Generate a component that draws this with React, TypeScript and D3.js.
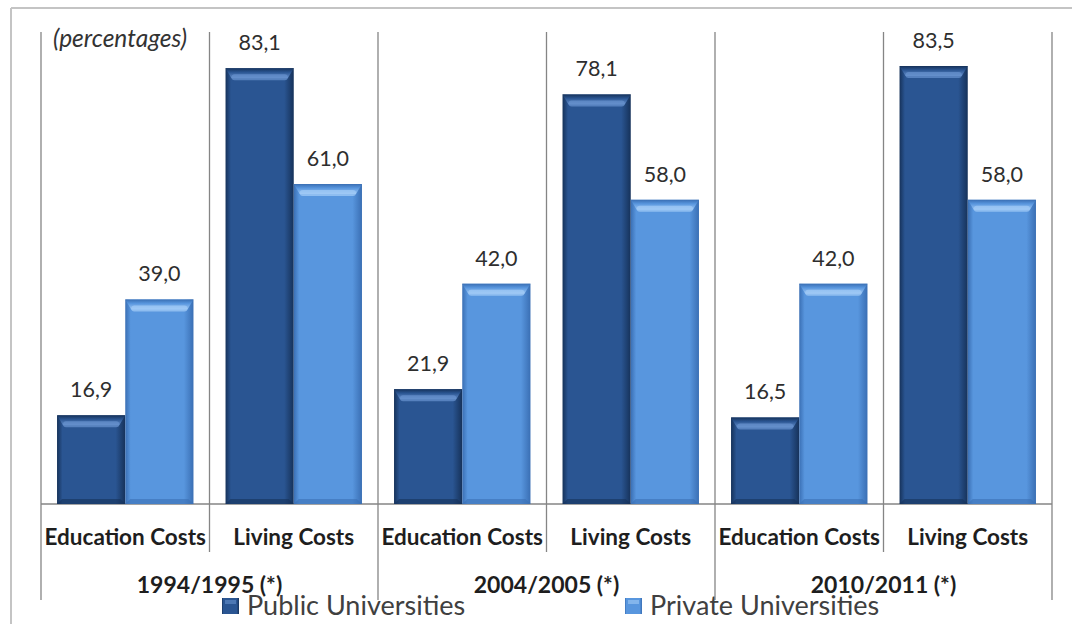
import * as d3 from "d3";

const years = ["1994/1995 (*)", "2004/2005 (*)", "2010/2011 (*)"];
const costTypes = ["Education Costs", "Living Costs"];
const seriesNames = ["Public Universities", "Private Universities"];
// values in order: year -> cost type
const publicValues = [16.9, 83.1, 21.9, 78.1, 16.5, 83.5];
const privateValues = [39.0, 61.0, 42.0, 58.0, 42.0, 58.0];
const unitLabel = "(percentages)";

const W = 1072;
const H = 624;
const plot = { left: 41, right: 1052, top: 32, bottom: 504 };
const font = "Lato, 'Open Sans', sans-serif";

const palette = {
	pub: { main: "#2a5592", edge: "#16325a", light: "#6690cc" },
	priv: { main: "#5896de", edge: "#3a6fb4", light: "#a0c9f5" },
};

const fmt = (v: number) => v.toFixed(1).replace(".", ",");

function Bar({ x, y, w, h, c, id }: { x: number; y: number; w: number; h: number; c: typeof palette.pub; id: string }) {
	const bevel = Math.min(10, h / 3);
	return (
		<g>
			<rect x={x} y={y} width={w} height={h} fill={`url(#h-${id})`} />
			{/* top bevel */}
			<polygon points={`${x},${y} ${x + w},${y} ${x + w - 6},${y + bevel} ${x + 6},${y + bevel}`} fill={`url(#t-${id})`} />
			<rect x={x + 6} y={y + bevel - 4} width={w - 12} height={6} rx={3} fill={c.light} opacity={0.75} />
			{/* bottom shade */}
			<polygon points={`${x},${y + h} ${x + w},${y + h} ${x + w - 5},${y + h - 5} ${x + 5},${y + h - 5}`} fill={c.edge} opacity={0.6} />
		</g>
	);
}

export default function App() {
	const cats = years.flatMap((yr) => costTypes.map((ct) => `${yr}|${ct}`));
	const x = d3.scaleBand<string>().domain(cats).range([plot.left, plot.right]).padding(0);
	const inner = d3.scaleBand<string>().domain(seriesNames).range([0, x.bandwidth()]).paddingInner(0).paddingOuter(0.235);
	const y = d3.scaleLinear().domain([0, 90]).range([plot.bottom, plot.top]);
	const groupW = x.bandwidth() * costTypes.length;

	const bars = cats.flatMap((cat, i) => [
		{ cat, s: seriesNames[0], v: publicValues[i], c: palette.pub, id: "pub" },
		{ cat, s: seriesNames[1], v: privateValues[i], c: palette.priv, id: "priv" },
	]);

	return (
		<svg width={W} height={H} style={{ position: "absolute", left: 0, top: 0, background: "#fff" }}>
			<defs>
				{(["pub", "priv"] as const).map((k) => {
					const c = palette[k];
					return (
						<g key={k}>
							<linearGradient id={`h-${k}`} x1="0" x2="1" y1="0" y2="0">
								<stop offset="0" stopColor={c.edge} />
								<stop offset="0.08" stopColor={c.main} />
								<stop offset="0.86" stopColor={c.main} />
								<stop offset="1" stopColor={c.edge} />
							</linearGradient>
							<linearGradient id={`t-${k}`} x1="0" x2="0" y1="0" y2="1">
								<stop offset="0" stopColor={c.edge} />
								<stop offset="0.4" stopColor={c.main} />
								<stop offset="1" stopColor={c.light} />
							</linearGradient>
						</g>
					);
				})}
			</defs>

			{/* outer frame */}
			<line x1={11} x2={11} y1={8} y2={H} stroke="#c4c4c4" strokeWidth={2} />
			<line x1={11} x2={W} y1={8} y2={8} stroke="#c4c4c4" strokeWidth={2} />

			{/* vertical separators */}
			{d3.range(cats.length + 1).map((i) => {
				const xx = i < cats.length ? x(cats[i])! : plot.right;
				const isGroup = i % costTypes.length === 0;
				return <line key={i} x1={xx} x2={xx} y1={plot.top} y2={isGroup ? 600 : 552} stroke="#858585" strokeWidth={1.3} />;
			})}
			<line x1={plot.left} x2={plot.right} y1={plot.bottom} y2={plot.bottom} stroke="#858585" strokeWidth={1.3} />

			{bars.map((b) => {
				const bx = x(b.cat)! + inner(b.s)!;
				const bw = inner.bandwidth();
				const top = y(b.v);
				return (
					<g key={b.cat + b.s}>
						<Bar x={bx} y={top} w={bw} h={plot.bottom - top} c={b.c} id={b.id} />
						<text x={bx + bw / 2} y={top - 18} textAnchor="middle" fontFamily={font} fontSize={21.5} fill="#2e2e2e">
							{fmt(b.v)}
						</text>
					</g>
				);
			})}

			{/* category labels */}
			{cats.map((cat) => (
				<text key={cat} x={x(cat)! + x.bandwidth() / 2} y={545} textAnchor="middle" fontFamily={font} fontWeight={700} fontSize={22.5} fill="#1e1e1e">
					{cat.split("|")[1]}
				</text>
			))}
			{years.map((yr, i) => (
				<text key={yr} x={x(cats[i * costTypes.length])! + groupW / 2} y={593} textAnchor="middle" fontFamily={font} fontWeight={700} fontSize={23} fill="#1e1e1e">
					{yr}
				</text>
			))}

			<text x={53} y={47} fontFamily={font} fontStyle="italic" fontSize={24.5} fill="#333">
				{unitLabel}
			</text>

			{/* legend */}
			{seriesNames.map((s, i) => {
				const lx = [222, 625][i];
				const k = i === 0 ? "pub" : "priv";
				return (
					<g key={s}>
						<rect x={lx} y={598} width={17} height={16} fill={`url(#h-${k})`} />
						<rect x={lx + 3} y={600} width={11} height={4} fill={palette[k].light} opacity={0.6} />
						<text x={lx + 25} y={615} fontFamily={font} fontSize={27} fill="#404040">
							{s}
						</text>
					</g>
				);
			})}
		</svg>
	);
}
